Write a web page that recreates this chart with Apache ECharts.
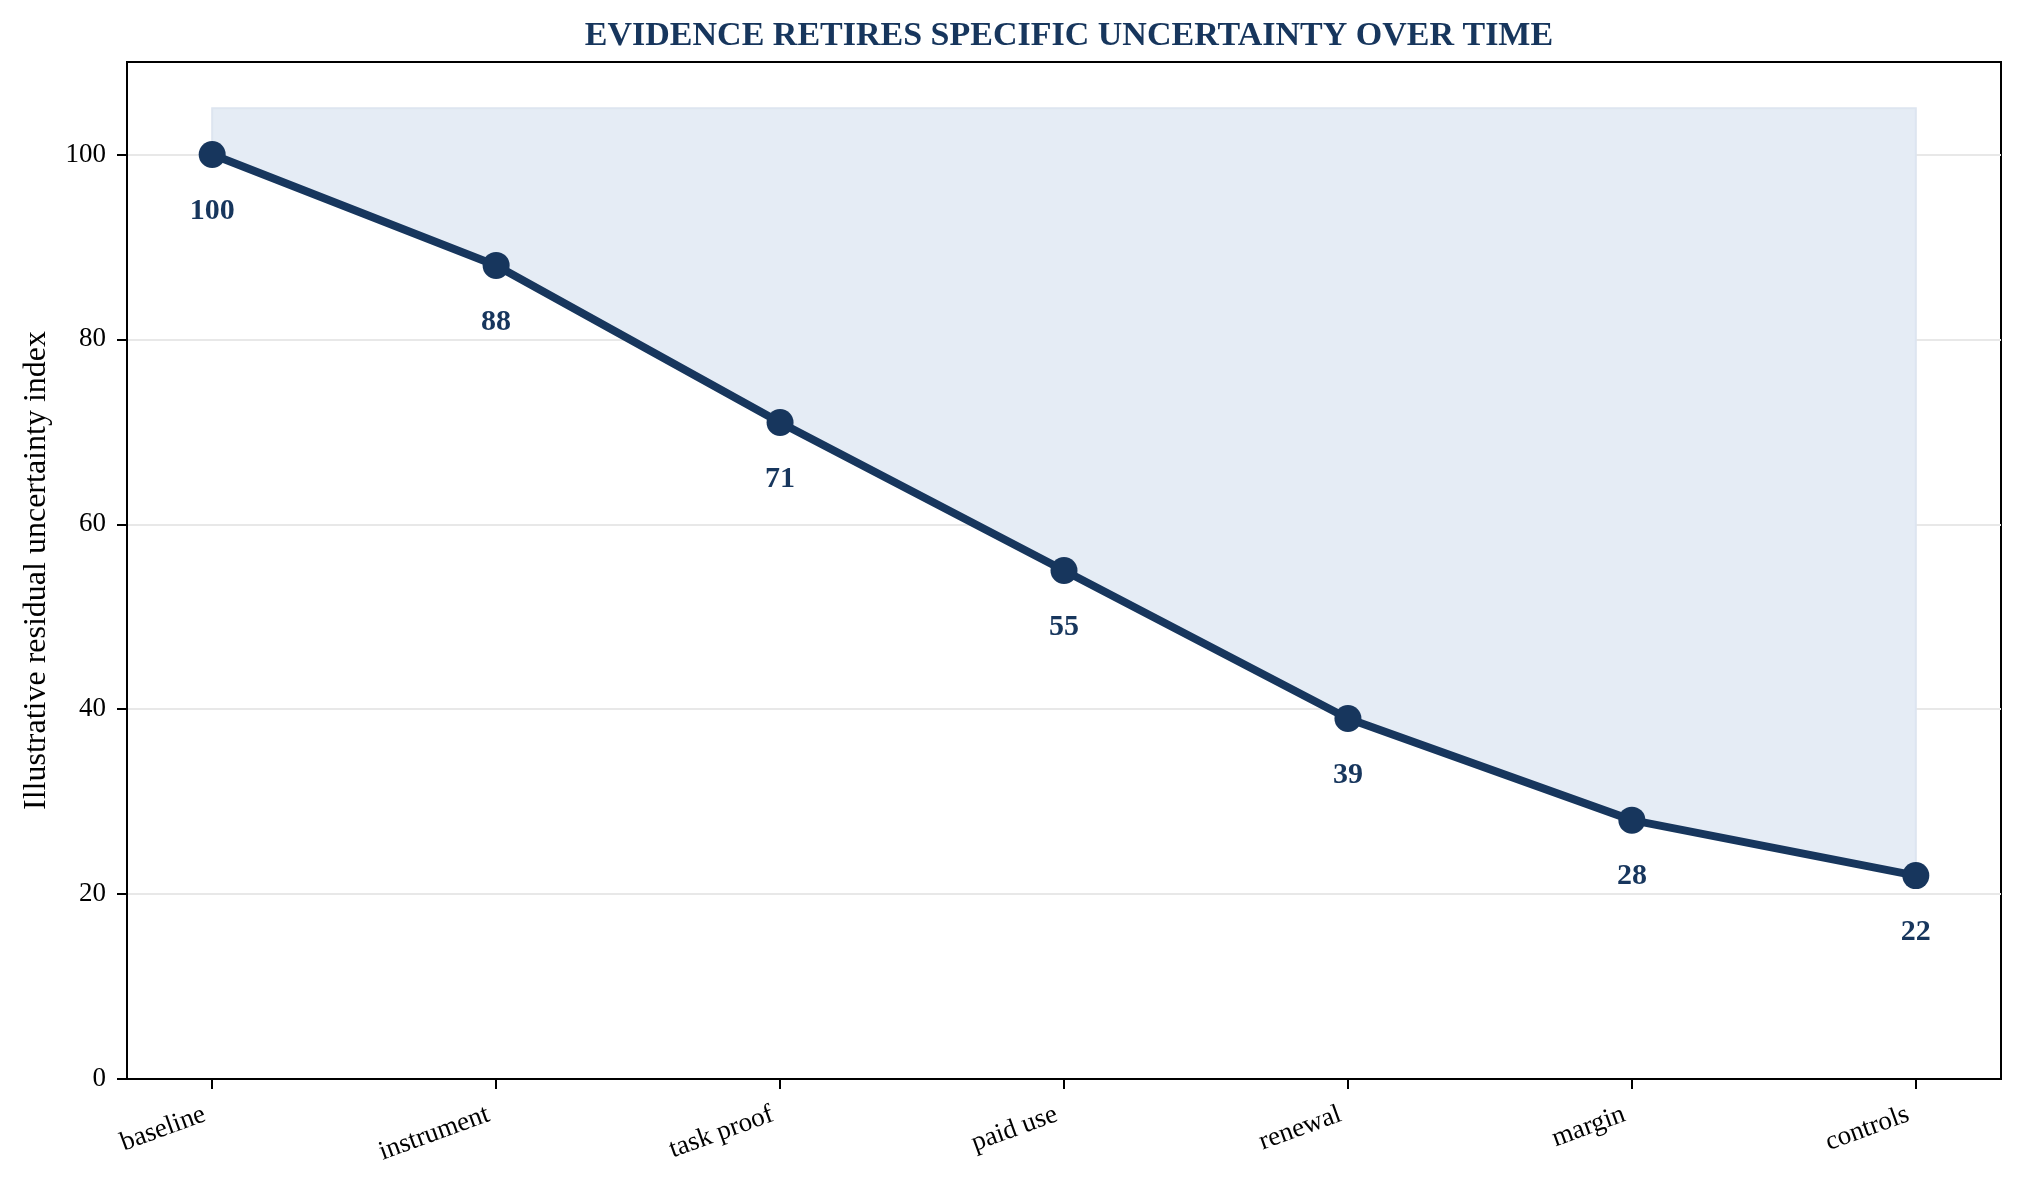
<!DOCTYPE html>
<html>
<head>
<meta charset="utf-8">
<script src="https://cdn.jsdelivr.net/npm/echarts@6/dist/echarts.min.js"></script>
<style>
  html, body { margin: 0; padding: 0; background: #fff; }
  #main { width: 2024px; height: 1185px; }
</style>
</head>
<body>
<div id="main"></div>
<script>
// stages along the x axis
let stages = ['baseline', 'instrument', 'task proof', 'paid use', 'renewal', 'margin', 'controls'];
// residual uncertainty index per stage
let residual = [100, 88, 71, 55, 39, 28, 22];
// upper edge of the shaded band
let bandTop = 105;
let yTicks = [0, 20, 40, 60, 80, 100];
let xTicks = stages.map(function (s, i) { return i; });

const navy = '#17365d';
const serif = '"Liberation Serif", "Times New Roman", serif';

let lineData = residual.map(function (v, i) { return [i, v]; });

// band between the line and bandTop, built from the axis scales
function renderBand(params, api) {
    if (params.dataIndex !== 0) return null;
    let pts = lineData.map(function (d) { return api.coord(d); });
    pts.push(api.coord([lineData.length - 1, bandTop]));
    pts.push(api.coord([0, bandTop]));
    return {
        type: 'polygon',
        shape: { points: pts },
        style: { fill: '#e5ecf5', stroke: '#dde5f0', lineWidth: 2 },
        silent: true
    };
}

let mainchart = echarts.init(document.getElementById('main'));
let chart_config = {
    animation: false,
    title: {
        text: 'EVIDENCE RETIRES SPECIFIC UNCERTAINTY OVER TIME',
        left: 1064,
        textAlign: 'center',
        top: 14,
        textStyle: {
            fontFamily: serif,
            fontSize: 34,
            fontWeight: 'bold',
            color: navy
        }
    },
    grid: {
        left: 127,
        right: 23,
        top: 62,
        bottom: 106,
        show: true,
        borderColor: '#000',
        borderWidth: 2,
        backgroundColor: 'transparent'
    },
    xAxis: {
        type: 'value',
        min: -0.3,
        max: 6.3,
        splitLine: { show: false },
        axisLine: { show: true, onZero: false, lineStyle: { color: '#000', width: 2 } },
        axisTick: {
            show: true,
            customValues: xTicks,
            length: 10,
            lineStyle: { color: '#000', width: 2 }
        },
        axisLabel: {
            customValues: xTicks,
            rotate: 20,
            margin: 32,
            padding: [0, 8, 0, 0],
            fontFamily: serif,
            fontSize: 27,
            color: '#000',
            formatter: function (v) { return stages[Math.round(v)]; }
        }
    },
    yAxis: {
        type: 'value',
        min: 0,
        max: 110,
        interval: 20,
        name: 'Illustrative residual uncertainty index',
        nameLocation: 'middle',
        nameGap: 74,
        nameTextStyle: {
            fontFamily: serif,
            fontSize: 32,
            color: '#000'
        },
        axisLine: { show: true, onZero: false, lineStyle: { color: '#000', width: 2 } },
        axisTick: {
            show: true,
            customValues: yTicks,
            length: 10,
            lineStyle: { color: '#000', width: 2 }
        },
        axisLabel: {
            customValues: yTicks,
            margin: 21,
            fontFamily: serif,
            fontSize: 27,
            color: '#000'
        },
        splitLine: { show: true, lineStyle: { color: '#e8e8e8', width: 2 } }
    },
    series: [
        {
            name: 'band',
            type: 'custom',
            renderItem: renderBand,
            data: lineData,
            silent: true,
            z: 1
        },
        {
            name: 'residual',
            type: 'line',
            data: lineData,
            symbol: 'circle',
            symbolSize: 27,
            lineStyle: { color: navy, width: 8 },
            itemStyle: { color: navy },
            label: {
                show: true,
                position: 'bottom',
                distance: 28,
                fontFamily: serif,
                fontSize: 30,
                fontWeight: 'bold',
                color: navy,
                formatter: function (p) { return p.value[1]; }
            },
            z: 3
        }
    ]
};
mainchart.setOption(chart_config);
</script>
</body>
</html>
